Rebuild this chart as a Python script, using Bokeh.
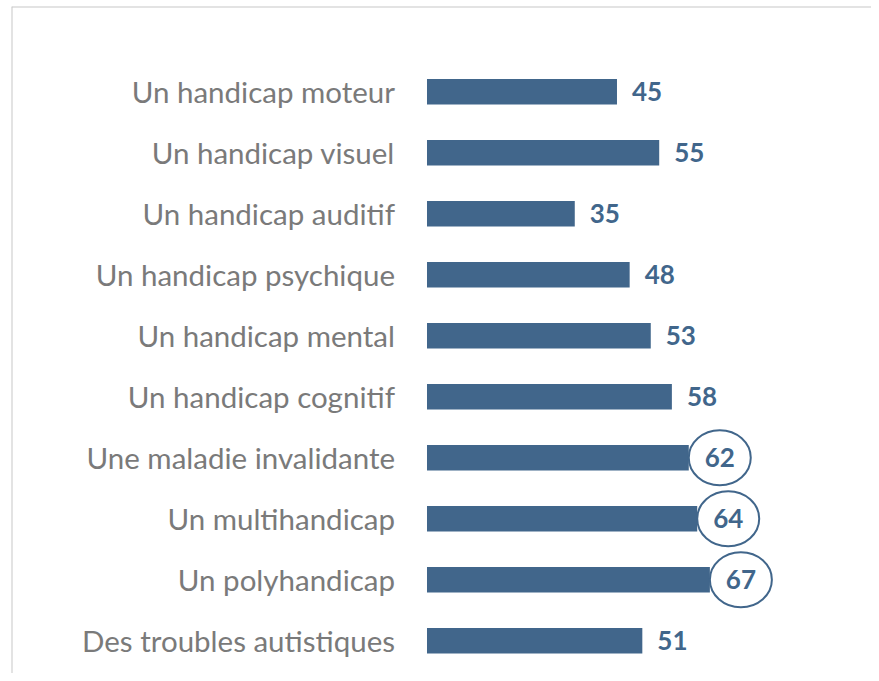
from bokeh.plotting import figure
from bokeh.models import ColumnDataSource, Range1d, Span
from bokeh.core.properties import value
from bokeh.embed import file_html
from bokeh.resources import INLINE

categories = [
    "Un handicap moteur",
    "Un handicap visuel",
    "Un handicap auditif",
    "Un handicap psychique",
    "Un handicap mental",
    "Un handicap cognitif",
    "Une maladie invalidante",
    "Un multihandicap",
    "Un polyhandicap",
    "Des troubles autistiques",
]
values = [45, 55, 35, 48, 53, 58, 62, 64, 67, 51]
circled = [False, False, False, False, False, False, True, True, True, False]

BAR = "#41668b"
LABEL = "#7a7a7a"
FRAME = "#c8c8c8"

n = len(categories)
pos = list(range(n))

W, H = 871, 673
LEFT, TOP = 11, 6
X0, X1 = -98.41, 105.28
p = figure(width=W, height=H, output_backend="svg", toolbar_location=None,
           x_range=Range1d(X0, X1),
           y_range=Range1d(n - 1 + 0.538, -1.397),
           min_border_left=LEFT, min_border_top=TOP, min_border_right=0, min_border_bottom=0)
p.axis.visible = False
p.xgrid.visible = False
p.ygrid.visible = False
p.outline_line_color = None
p.background_fill_color = "white"
p.border_fill_color = "white"

src = ColumnDataSource(dict(y=pos, v=values, cat=categories))
plain = ColumnDataSource(dict(
    y=[pos[i] for i in range(n) if not circled[i]],
    v=[values[i] for i in range(n) if not circled[i]],
    lab=[str(values[i]) for i in range(n) if not circled[i]],
))
scale = (W - LEFT) / (X1 - X0)
off = 31 / scale
circ = ColumnDataSource(dict(
    y=[pos[i] for i in range(n) if circled[i]],
    xc=[values[i] + off for i in range(n) if circled[i]],
    lab=[str(values[i]) for i in range(n) if circled[i]],
))

p.hbar(y="y", left=0, right="v", height=0.418, source=src,
       fill_color=BAR, line_color=None)

p.text(x=0, y="y", text="cat", source=src, x_offset=-32,
       text_align="right", text_baseline="middle",
       text_font=value("Lato"), text_font_size="29.5px", text_color=LABEL)

p.text(x="v", y="y", text="lab", source=plain, x_offset=15,
       text_align="left", text_baseline="middle",
       text_font=value("Lato"), text_font_size="26px", text_font_style="bold",
       text_color=BAR)

p.ellipse(x="xc", y="y", width=62, height=55, width_units="screen", height_units="screen",
          source=circ, fill_color="white", line_color=BAR, line_width=2)
p.text(x="xc", y="y", text="lab", source=circ,
       text_align="center", text_baseline="middle",
       text_font=value("Lato"), text_font_size="26px", text_font_style="bold",
       text_color=BAR)

p.add_layout(Span(location=p.y_range.end, dimension="width", line_color=FRAME, line_width=2))
p.add_layout(Span(location=p.x_range.start, dimension="height", line_color=FRAME, line_width=2))

open("out.html", "w").write(file_html(p, INLINE))
